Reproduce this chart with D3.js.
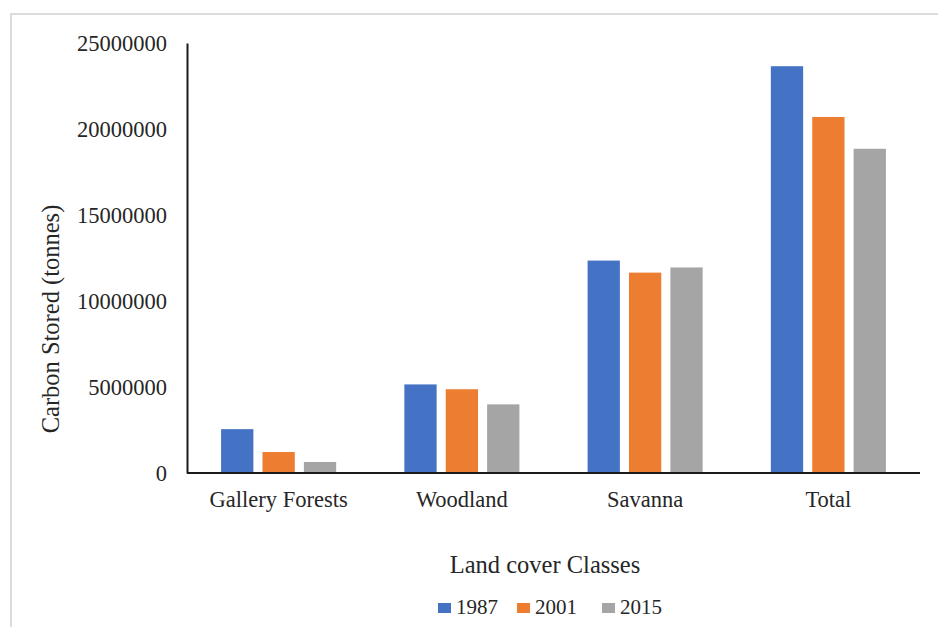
<!DOCTYPE html>
<html>
<head>
<meta charset="utf-8">
<script src="https://cdn.jsdelivr.net/npm/d3@7"></script>
<style>
  body { margin: 0; background: #fff; }
</style>
</head>
<body>
<svg id="chart" width="938" height="627"></svg>
<script>
"use strict";

// land cover classes and carbon stored per year (tonnes)
let categories = ["Gallery Forests", "Woodland", "Savanna", "Total"];
let years = ["1987", "2001", "2015"];
let values1987 = [2550000, 5150000, 12350000, 23650000];
let values2001 = [1220000, 4870000, 11650000, 20700000];
let values2015 = [640000, 3990000, 11950000, 18850000];
let yTicks = [0, 5000000, 10000000, 15000000, 20000000, 25000000];
let colors = ["#4472C4", "#ED7D31", "#A5A5A5"];

let seriesValues = [values1987, values2001, values2015];
let serif = "'Liberation Serif', 'Times New Roman', 'DejaVu Serif', serif";

function drawChart() {
  let svg = d3.select("#chart")
    .attr("font-family", serif);

  // outer frame (only top + left visible in the picture)
  svg.append("rect")
    .attr("x", 11).attr("y", 14)
    .attr("width", 1000).attr("height", 700)
    .style("fill", "none")
    .style("stroke", "#dcdcdc")
    .style("stroke-width", 2);

  let left = 187, right = 920, top = 43, bottom = 473;

  let x = d3.scaleBand().domain(categories).range([left, right]).paddingInner(0.372).paddingOuter(0.186);
  let xInner = d3.scaleBand().domain(years).range([0, x.bandwidth()]).paddingInner(0.22);
  let y = d3.scaleLinear().domain([0, 25000000]).range([bottom, top]);

  // bars
  let rows = [];
  categories.forEach((c, i) => {
    years.forEach((yr, j) => {
      rows.push({ cat: c, year: yr, value: seriesValues[j][i], color: colors[j] });
    });
  });

  svg.append("g").selectAll("rect").data(rows).enter()
    .append("rect")
    .attr("x", d => x(d.cat) + xInner(d.year))
    .attr("y", d => y(d.value))
    .attr("width", xInner.bandwidth())
    .attr("height", d => bottom - y(d.value))
    .style("fill", d => d.color);

  // y axis
  let yAxis = svg.append("g")
    .attr("transform", "translate(" + left + ",0)")
    .call(d3.axisLeft(y).tickValues(yTicks).tickSize(0).tickPadding(20).tickFormat(d3.format("d")))
    .attr("font-family", serif)
    .attr("font-size", 22.5);
  yAxis.select(".domain").style("stroke", "#1a1a1a").style("stroke-width", 2);
  yAxis.selectAll("text").style("fill", "#262626").attr("dy", "0.32em");

  // x axis
  let xAxis = svg.append("g")
    .attr("transform", "translate(0," + bottom + ")")
    .call(d3.axisBottom(x).tickSize(0).tickPadding(18))
    .attr("font-family", serif)
    .attr("font-size", 22.5);
  xAxis.select(".domain").attr("d", "M" + left + ",0H" + right).style("stroke", "#1a1a1a").style("stroke-width", 2);
  xAxis.selectAll("text").style("fill", "#262626");

  // axis titles
  svg.append("text")
    .attr("transform", "translate(59,319) rotate(-90)")
    .attr("text-anchor", "middle")
    .style("font-size", "24.5px")
    .style("fill", "#262626")
    .text("Carbon Stored (tonnes)");

  svg.append("text")
    .attr("x", 545).attr("y", 573)
    .attr("text-anchor", "middle")
    .style("font-size", "24.5px")
    .style("fill", "#262626")
    .text("Land cover Classes");

  // legend
  let legendX = [438, 517, 602];
  let legend = svg.append("g").selectAll("g").data(years).enter()
    .append("g")
    .attr("transform", (d, i) => "translate(" + legendX[i] + ",0)");
  legend.append("rect")
    .attr("x", 0).attr("y", 603)
    .attr("width", 13).attr("height", 10)
    .style("fill", (d, i) => colors[i]);
  legend.append("text")
    .attr("x", 18).attr("y", 614)
    .style("font-size", "21px")
    .style("fill", "#262626")
    .text(d => d);
}

drawChart();
</script>
</body>
</html>
